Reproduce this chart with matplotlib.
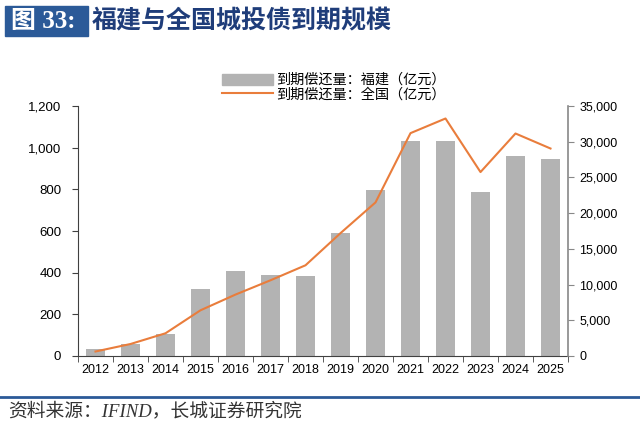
import matplotlib
matplotlib.use('Agg')
import matplotlib.pyplot as plt
import numpy as np
from matplotlib.patches import Rectangle
from matplotlib.lines import Line2D

plt.rcParams['font.family'] = ['Liberation Sans', 'Noto Sans CJK SC', 'DejaVu Sans']

# 数据
years = ['2012', '2013', '2014', '2015', '2016', '2017', '2018',
         '2019', '2020', '2021', '2022', '2023', '2024', '2025']
fujian = [32, 57, 108, 323, 409, 390, 385, 590, 797, 1033, 1031, 789, 960, 944]
national = [630, 1680, 3180, 6400, 8600, 10600, 12700,
            17200, 21500, 31200, 33250, 25750, 31150, 29050]

label_fj = '到期偿还量：福建（亿元）'
label_qg = '到期偿还量：全国（亿元）'
title = '福建与全国城投债到期规模'
source = '资料来源：IFIND，长城证券研究院'

bar_color = '#b3b3b3'
line_color = '#e97d3c'
blue = '#2b5a98'

fig = plt.figure(figsize=(6.4, 4.28), dpi=100)
ax = fig.add_axes([78 / 640, 1 - 356 / 428, 490 / 640, 250 / 428])
ax2 = ax.twinx()

x = np.arange(len(years))
ax.bar(x, fujian, width=0.55, color=bar_color, zorder=2)
ax2.plot(x, national, color=line_color, linewidth=1.5, zorder=3)

ax.set_xlim(-0.5, len(years) - 0.5)
ax.set_ylim(0, 1200)
ax2.set_ylim(0, 35000)
ax.set_yticks(np.arange(0, 1201, 200))
ax.set_yticklabels([f'{v:,}' for v in range(0, 1201, 200)])
ax2.set_yticks(np.arange(0, 35001, 5000))
ax2.set_yticklabels([f'{v:,}' for v in range(0, 35001, 5000)])

ax.set_xticks(x)
ax.set_xticklabels(years)
ax.set_xticks(np.arange(-0.5, len(years)), minor=True)
ax.tick_params(axis='x', which='major', length=0, pad=6, labelsize=9, colors='#000000')
ax.tick_params(axis='x', which='minor', length=4, direction='out', color='#404040')
ax.tick_params(axis='y', length=4, direction='out', color='#404040', labelsize=9.5, pad=8)
ax2.tick_params(axis='y', length=4, direction='out', color='#888888', labelsize=9, pad=4)

for a in (ax, ax2):
    a.spines['top'].set_visible(False)
ax.spines['right'].set_visible(False)
ax2.spines['left'].set_visible(False)
ax2.spines['bottom'].set_visible(False)
ax.spines['left'].set_color('#404040')
ax.spines['bottom'].set_color('#404040')
ax2.spines['right'].set_color('#888888')
ax2.spines['right'].set_linewidth(1.2)

# 图例
handles = [Rectangle((0, 0), 1, 1, color=bar_color),
           Line2D([0], [0], color=line_color, linewidth=1.5)]
fig.legend(handles, [label_fj, label_qg], loc='upper center',
           bbox_to_anchor=(0.522, 1 - 66 / 428), frameon=False, fontsize=10.2,
           handlelength=3.6, handleheight=0.85, labelspacing=0.02,
           handletextpad=0.2, borderpad=0)

# 标题
fig.patches.append(Rectangle((5 / 640, 1 - 36 / 428), 83 / 640, 30 / 428,
                             transform=fig.transFigure, color=blue))
fig.text(11 / 640, 1 - 21 / 428, '图 33:', color='white', fontsize=18, fontweight='bold',
         va='center', ha='left', family=['Liberation Serif', 'Noto Sans CJK SC'])
fig.text(92 / 640, 1 - 21 / 428, title, color='#1f3d7a', fontsize=18, fontweight='bold',
         va='center', ha='left', family=['Noto Sans CJK SC'])

# 底部
fig.add_artist(Line2D([0, 1], [1 - 397 / 428, 1 - 397 / 428], transform=fig.transFigure,
                      color=blue, linewidth=2))
fig.text(8 / 640, 1 - 411 / 428, source, fontsize=13.5, style='italic', color='#333333',
         va='center', ha='left', family=['Liberation Serif', 'Noto Sans CJK SC'])

fig.savefig('out.png', dpi=100)
